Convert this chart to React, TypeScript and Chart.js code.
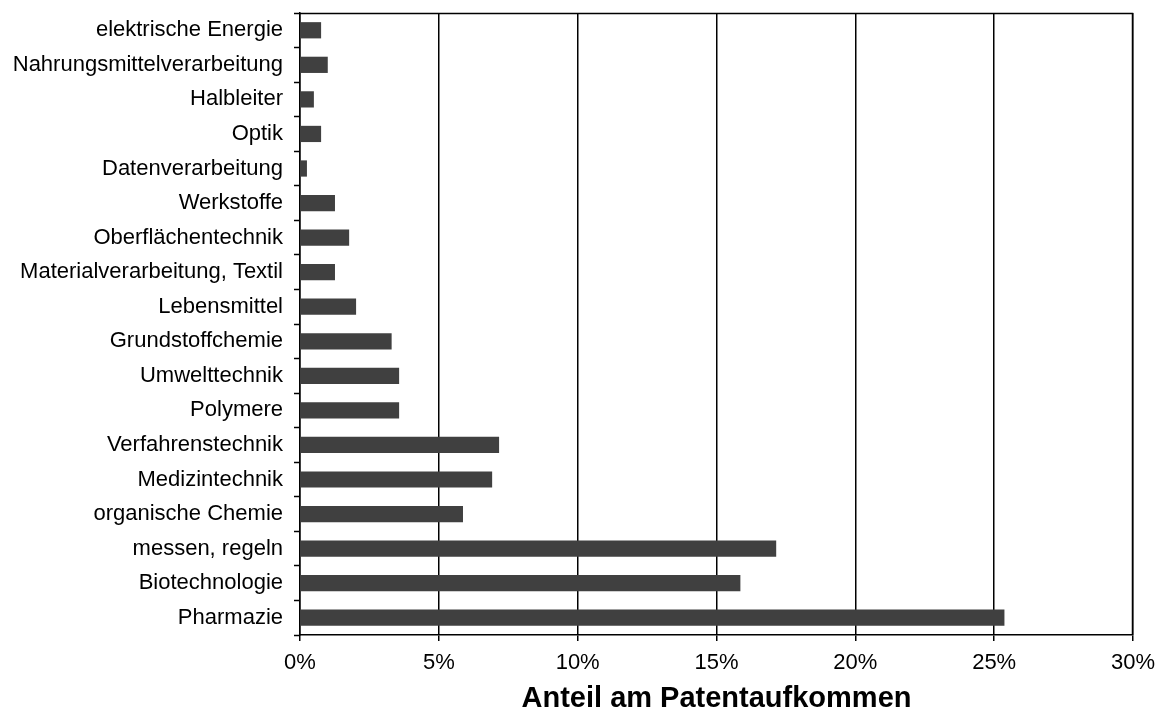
import React, { useEffect, useRef } from "react";
import { Chart, registerables } from "chart.js";

Chart.register(...registerables);

const categories: string[] = [
  "elektrische Energie",
  "Nahrungsmittelverarbeitung",
  "Halbleiter",
  "Optik",
  "Datenverarbeitung",
  "Werkstoffe",
  "Oberflächentechnik",
  "Materialverarbeitung, Textil",
  "Lebensmittel",
  "Grundstoffchemie",
  "Umwelttechnik",
  "Polymere",
  "Verfahrenstechnik",
  "Medizintechnik",
  "organische Chemie",
  "messen, regeln",
  "Biotechnologie",
  "Pharmazie",
];

const shares: number[] = [
  0.76, 1.0, 0.5, 0.76, 0.25, 1.26, 1.77, 1.26, 2.02, 3.3, 3.57, 3.57, 7.17, 6.92, 5.87, 17.15, 15.86, 25.37,
];

const xTicks: number[] = [0, 5, 10, 15, 20, 25, 30];
const axisTitle = "Anteil am Patentaufkommen";

const frame = {
  id: "frame",
  afterDraw(chart: any) {
    const { ctx, chartArea } = chart;
    ctx.save();
    ctx.strokeStyle = "#000";
    ctx.lineWidth = 1.5;
    ctx.beginPath();
    ctx.moveTo(chartArea.left, chartArea.top + 0.5);
    ctx.lineTo(chartArea.right - 0.5, chartArea.top + 0.5);
    ctx.lineTo(chartArea.right - 0.5, chartArea.bottom);
    ctx.stroke();
    ctx.restore();
  },
};

export default function App() {
  const ref = useRef<HTMLCanvasElement | null>(null);
  useEffect(() => {
    document.body.style.margin = "0";
    if (!ref.current) return;
    const chart = new Chart(ref.current, {
      type: "bar",
      data: {
        labels: categories,
        datasets: [
          {
            data: shares,
            backgroundColor: "#404040",
            borderWidth: 0,
            barPercentage: 0.47,
            categoryPercentage: 1,
          },
        ],
      },
      options: {
        indexAxis: "y",
        animation: false,
        responsive: false,
        maintainAspectRatio: false,
        layout: { padding: { left: 0, right: 38, top: 13, bottom: 0 } },
        plugins: { legend: { display: false }, tooltip: { enabled: false } },
        scales: {
          y: {
            type: "category",
            offset: true,
            afterFit: (s: any) => {
              s.width = 300;
              s.paddingTop = 0;
              s.paddingBottom = 0;
            },
            grid: {
              display: true,
              drawOnChartArea: false,
              drawTicks: true,
              tickLength: 6,
              tickWidth: 1.5,
              color: "#000",
              offset: true,
            },
            border: { display: true, color: "#000", width: 1.5 },
            ticks: {
              color: "#000",
              padding: 11,
              font: { family: "Liberation Sans", size: 22 },
              autoSkip: false,
            },
          },
          x: {
            type: "linear",
            min: 0,
            max: 30,
            afterBuildTicks: (s: any) => {
              s.ticks = xTicks.map((v) => ({ value: v }));
            },
            afterFit: (s: any) => {
              s.height = 76;
              s.paddingLeft = 0;
              s.paddingRight = 0;
            },
            grid: {
              display: true,
              drawOnChartArea: true,
              drawTicks: true,
              tickLength: 6,
              color: "#000",
              lineWidth: 1.5,
            },
            border: { display: true, color: "#000", width: 1.5 },
            ticks: {
              color: "#000",
              padding: 9,
              maxRotation: 0,
              font: { family: "Liberation Sans", size: 22 },
              callback: (v: any) => v + "%",
            },
            title: {
              display: true,
              text: axisTitle,
              color: "#000",
              font: { family: "Liberation Sans", size: 29, weight: "bold", lineHeight: 0.85 },
              padding: { top: 0, bottom: 0 },
            },
          },
        },
      },
      plugins: [frame],
    });
    return () => chart.destroy();
  }, []);
  return (
    <div style={{ width: 1171, height: 711 }}>
      <canvas ref={ref} width={1171} height={711} style={{ display: "block" }} />
    </div>
  );
}
